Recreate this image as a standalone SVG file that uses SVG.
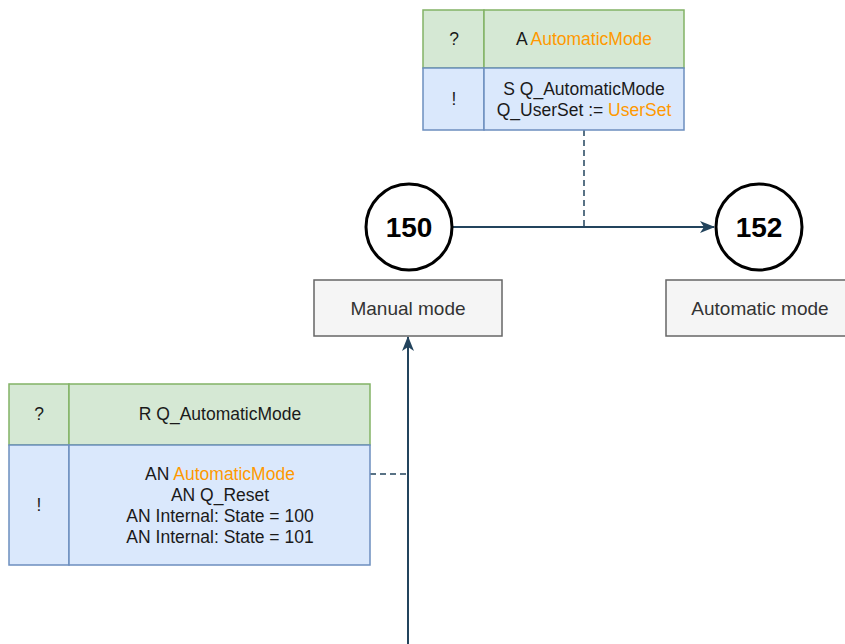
<svg xmlns="http://www.w3.org/2000/svg" width="845" height="644" viewBox="0 0 845 644">
  <style>
    .cond { fill: #d5e8d4; stroke: #82b366; stroke-width: 1.5; }
    .act { fill: #dae8fc; stroke: #6c8ebf; stroke-width: 1.5; }
    .tt { font-family: "Liberation Sans", Arial, sans-serif; font-size: 17.5px; fill: #1a1a1a; text-anchor: middle; }
    .hl { fill: #ff9900; }
    .step { fill: #ffffff; stroke: #000000; stroke-width: 3; }
    .stepnum { font-family: "Liberation Sans", Arial, sans-serif; font-size: 28px; font-weight: bold; fill: #000000; text-anchor: middle; }
    .lbl { fill: #f5f5f5; stroke: #666666; stroke-width: 1.5; }
    .lbltxt { font-family: "Liberation Sans", Arial, sans-serif; font-size: 19px; fill: #333333; text-anchor: middle; }
    .flow { fill: none; stroke: #23445d; stroke-width: 2; }
    .dash { fill: none; stroke: #23445d; stroke-width: 1.5; stroke-dasharray: 6 4; }
  </style>
  <defs>
    <marker id="arrow" viewBox="0 0 15 12" refX="14" refY="6" markerWidth="15" markerHeight="12" markerUnits="userSpaceOnUse" orient="auto">
      <path d="M0,0 L15,6 L0,12 L4,6 z" fill="#23445d"/>
    </marker>
  </defs>

  <!-- connectors -->
  <g id="connectors">
    <line class="flow" x1="453" y1="227" x2="714" y2="227" marker-end="url(#arrow)"/>
    <line class="flow" x1="408" y1="644" x2="408" y2="337" marker-end="url(#arrow)"/>
    <line class="dash" x1="584" y1="130" x2="584" y2="227"/>
    <line class="dash" x1="370" y1="474" x2="408" y2="474"/>
  </g>

  <!-- transition 150 -> 152 -->
  <g id="transition-top">
    <rect class="cond" x="423" y="10" width="61" height="58"/>
    <rect class="cond" x="484" y="10" width="200" height="58"/>
    <rect class="act" x="423" y="68" width="61" height="62"/>
    <rect class="act" x="484" y="68" width="200" height="62"/>
    <text class="tt" x="454" y="45">?</text>
    <text class="tt" x="584" y="45">A <tspan class="hl">AutomaticMode</tspan></text>
    <text class="tt" x="454" y="105">!</text>
    <text class="tt" x="584" y="95">S Q_AutomaticMode</text>
    <text class="tt" x="584" y="116">Q_UserSet := <tspan class="hl">UserSet</tspan></text>
  </g>

  <!-- transition into 150 -->
  <g id="transition-bottom">
    <rect class="cond" x="9" y="384" width="60" height="61"/>
    <rect class="cond" x="69" y="384" width="301" height="61"/>
    <rect class="act" x="9" y="445" width="60" height="120"/>
    <rect class="act" x="69" y="445" width="301" height="120"/>
    <text class="tt" x="39" y="420">?</text>
    <text class="tt" x="220" y="420">R Q_AutomaticMode</text>
    <text class="tt" x="39" y="511">!</text>
    <text class="tt" x="220" y="479.5">AN <tspan class="hl">AutomaticMode</tspan></text>
    <text class="tt" x="220" y="500.5">AN Q_Reset</text>
    <text class="tt" x="220" y="521.5">AN Internal: State = 100</text>
    <text class="tt" x="220" y="542.5">AN Internal: State = 101</text>
  </g>

  <!-- step 150 -->
  <g id="step-150">
    <circle class="step" cx="409" cy="227" r="43"/>
    <text class="stepnum" x="409" y="237">150</text>
  </g>

  <!-- step 152 -->
  <g id="step-152">
    <circle class="step" cx="759" cy="227" r="43"/>
    <text class="stepnum" x="759" y="237">152</text>
  </g>

  <!-- step labels -->
  <g id="label-manual">
    <rect class="lbl" x="314" y="280" width="188" height="56"/>
    <text class="lbltxt" x="408" y="315">Manual mode</text>
  </g>
  <g id="label-automatic">
    <rect class="lbl" x="666" y="280" width="188" height="56"/>
    <text class="lbltxt" x="760" y="315">Automatic mode</text>
  </g>
</svg>
